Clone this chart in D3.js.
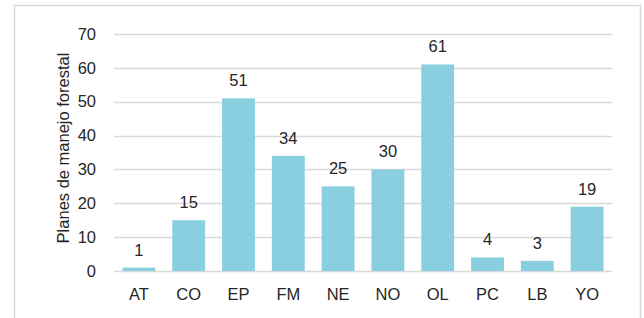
<!DOCTYPE html>
<html><head><meta charset="utf-8">
<script src="https://cdn.jsdelivr.net/npm/d3@7"></script>
<style>body{margin:0;background:#fff}svg{display:block}text{font-family:"Liberation Sans",Arial,sans-serif}</style>
</head><body>
<script>
const categories = ["AT","CO","EP","FM","NE","NO","OL","PC","LB","YO"];
const values = [1,15,51,34,25,30,61,4,3,19];
const yTicks = [0,10,20,30,40,50,60,70];
const yTitle = "Planes de manejo forestal";

(function(){
const W = 644, H = 318;
const svg = d3.select("body").append("svg").attr("width", W).attr("height", H);
svg.append("rect").attr("x",14.5).attr("y",5.5).attr("width",626).attr("height",330)
  .attr("fill","#fff").attr("stroke","#d9d9d9").attr("stroke-width",1.5);

const pl = 114, pr = 612, pt = 34, pb = 271;
const x = d3.scaleBand().domain(categories).range([pl, pr]).paddingInner(0.34).paddingOuter(0.17);
const y = d3.scaleLinear().domain([0,70]).range([pb, pt]);

const grid = svg.append("g");
grid.selectAll("line").data(yTicks).join("line")
  .attr("x1", pl).attr("x2", pr)
  .attr("y1", d => Math.round(y(d))+0.5).attr("y2", d => Math.round(y(d))+0.5)
  .attr("stroke","#d9d9d9").attr("stroke-width",1.5);

svg.selectAll("rect.bar").data(values).join("rect").attr("class","bar")
  .attr("x",(d,i)=>x(categories[i])).attr("width",x.bandwidth())
  .attr("y",d=>y(d)).attr("height",d=>pb-y(d)).attr("fill","#8ACFDF");

svg.selectAll("text.val").data(values).join("text").attr("class","val")
  .attr("x",(d,i)=>x(categories[i])+x.bandwidth()/2).attr("y",d=>y(d)-12)
  .attr("text-anchor","middle").attr("font-size",16.5).attr("fill","#262626").text(d=>d);

const yAxis = d3.axisLeft(y).tickValues(yTicks).tickSize(0).tickPadding(0);
const ya = svg.append("g").attr("transform",`translate(96,0)`).call(yAxis);
ya.select(".domain").remove();
ya.selectAll("text").attr("font-size",16.5).attr("fill","#262626").attr("font-family","Liberation Sans, Arial, sans-serif");

const xAxis = d3.axisBottom(x).tickSize(0).tickPadding(0);
const xa = svg.append("g").attr("transform",`translate(0,${pb+17})`).call(xAxis);
xa.select(".domain").remove();
xa.selectAll("text").attr("font-size",16.5).attr("fill","#262626").attr("font-family","Liberation Sans, Arial, sans-serif");

svg.append("text").attr("transform",`translate(69,148) rotate(-90)`)
  .attr("text-anchor","middle").attr("font-size",16.5).attr("fill","#262626").text(yTitle);
})();
</script>
</body></html>
